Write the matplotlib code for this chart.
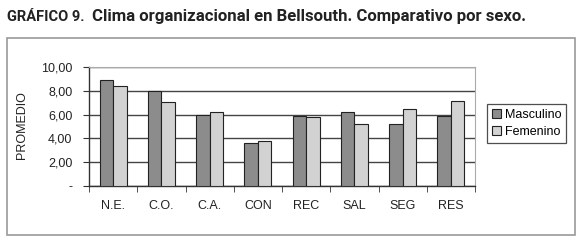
import matplotlib
matplotlib.use("Agg")
import matplotlib.pyplot as plt
from matplotlib.patches import Rectangle
from matplotlib import font_manager
import numpy as np

categories = ["N.E.", "C.O.", "C.A.", "CON", "REC", "SAL", "SEG", "RES"]
masculino = [8.88, 7.98, 5.97, 3.59, 5.90, 6.19, 5.20, 5.90]
femenino = [8.40, 7.08, 6.19, 3.75, 5.77, 5.21, 6.44, 7.14]
yticks = [0, 2, 4, 6, 8, 10]
ytick_labels = ["-", "2,00", "4,00", "6,00", "8,00", "10,00"]

W, H = 580, 244
fig = plt.figure(figsize=(W / 100, H / 100), dpi=100)
fig.patch.set_facecolor("white")

def fx(x):
    return x / W

def fy(y):
    return 1 - y / H

names = {f.name for f in font_manager.fontManager.ttflist}
title_family = "Liberation Sans Narrow" if "Liberation Sans Narrow" in names else "Roboto"

# outer frame
fig.patches.append(Rectangle((fx(7), fy(235)), fx(575) - fx(7), fy(38) - fy(235),
                             transform=fig.transFigure, fill=False,
                             edgecolor="#9a9a9a", linewidth=1.2))

renderer = fig.canvas.get_renderer()
t1 = fig.text(fx(7), fy(17), "GRÁFICO 9.", fontsize=10.5, fontweight="bold",
              family=title_family, color="#222222", va="center", ha="left")
e1 = t1.get_window_extent(renderer)
x2 = e1.x1 + 7
t2 = fig.text(x2 / W, fy(17), "Clima organizacional en Bellsouth. Comparativo por sexo.",
              fontsize=12, fontweight="bold", family=title_family, color="#222222",
              va="center", ha="left")
e2 = t2.get_window_extent(renderer)
t2.set_fontsize(12 * (527 - x2) / e2.width)

ax = fig.add_axes([fx(89), fy(186), fx(475) - fx(89), fy(67) - fy(186)])
x = np.arange(len(categories))
bw = 0.28
ax.bar(x - bw / 2, masculino, bw, color="#8c8c8c", edgecolor="#222222",
       linewidth=0.8, label="Masculino", zorder=3)
ax.bar(x + bw / 2, femenino, bw, color="#d2d2d2", edgecolor="#222222",
       linewidth=0.8, label="Femenino", zorder=3)

ax.set_xlim(-0.5, len(categories) - 0.5)
ax.set_ylim(0, 10)
ax.set_yticks(yticks)
ax.set_yticklabels(ytick_labels, family="Liberation Sans", fontsize=9, color="#222222")
ax.set_xticks(x)
ax.set_xticklabels(categories, family="Liberation Sans", fontsize=9, color="#222222")
ax.tick_params(axis="x", length=0, pad=10)
ax.set_xticks(np.arange(-0.5, len(categories) + 0.5, 1), minor=True)
ax.tick_params(axis="x", which="minor", length=4, direction="out", color="#333333")
ax.tick_params(axis="y", length=4, direction="out", color="#333333", pad=8)
ax.yaxis.grid(True, color="#444444", linewidth=1.0, zorder=0)
ax.set_axisbelow(True)
for s in ["top", "right"]:
    ax.spines[s].set_color("#aaaaaa")
for s in ["left", "bottom"]:
    ax.spines[s].set_color("#333333")
    ax.spines[s].set_linewidth(1.0)

fig.text(fx(22), fy(125), "PROMEDIO", rotation=90, family="Liberation Sans",
         fontsize=9, color="#222222", va="center", ha="center")

leg = fig.legend(loc="upper left", bbox_to_anchor=(fx(487), fy(104)),
                 bbox_transform=fig.transFigure, frameon=True, fancybox=False,
                 prop={"family": "Liberation Sans", "size": 9},
                 handlelength=0.7, handleheight=0.7, handletextpad=0.3,
                 borderpad=0.4, labelspacing=0.4, borderaxespad=0)
leg.get_frame().set_edgecolor("#222222")
leg.get_frame().set_linewidth(0.9)

fig.savefig("out.png", dpi=100)
